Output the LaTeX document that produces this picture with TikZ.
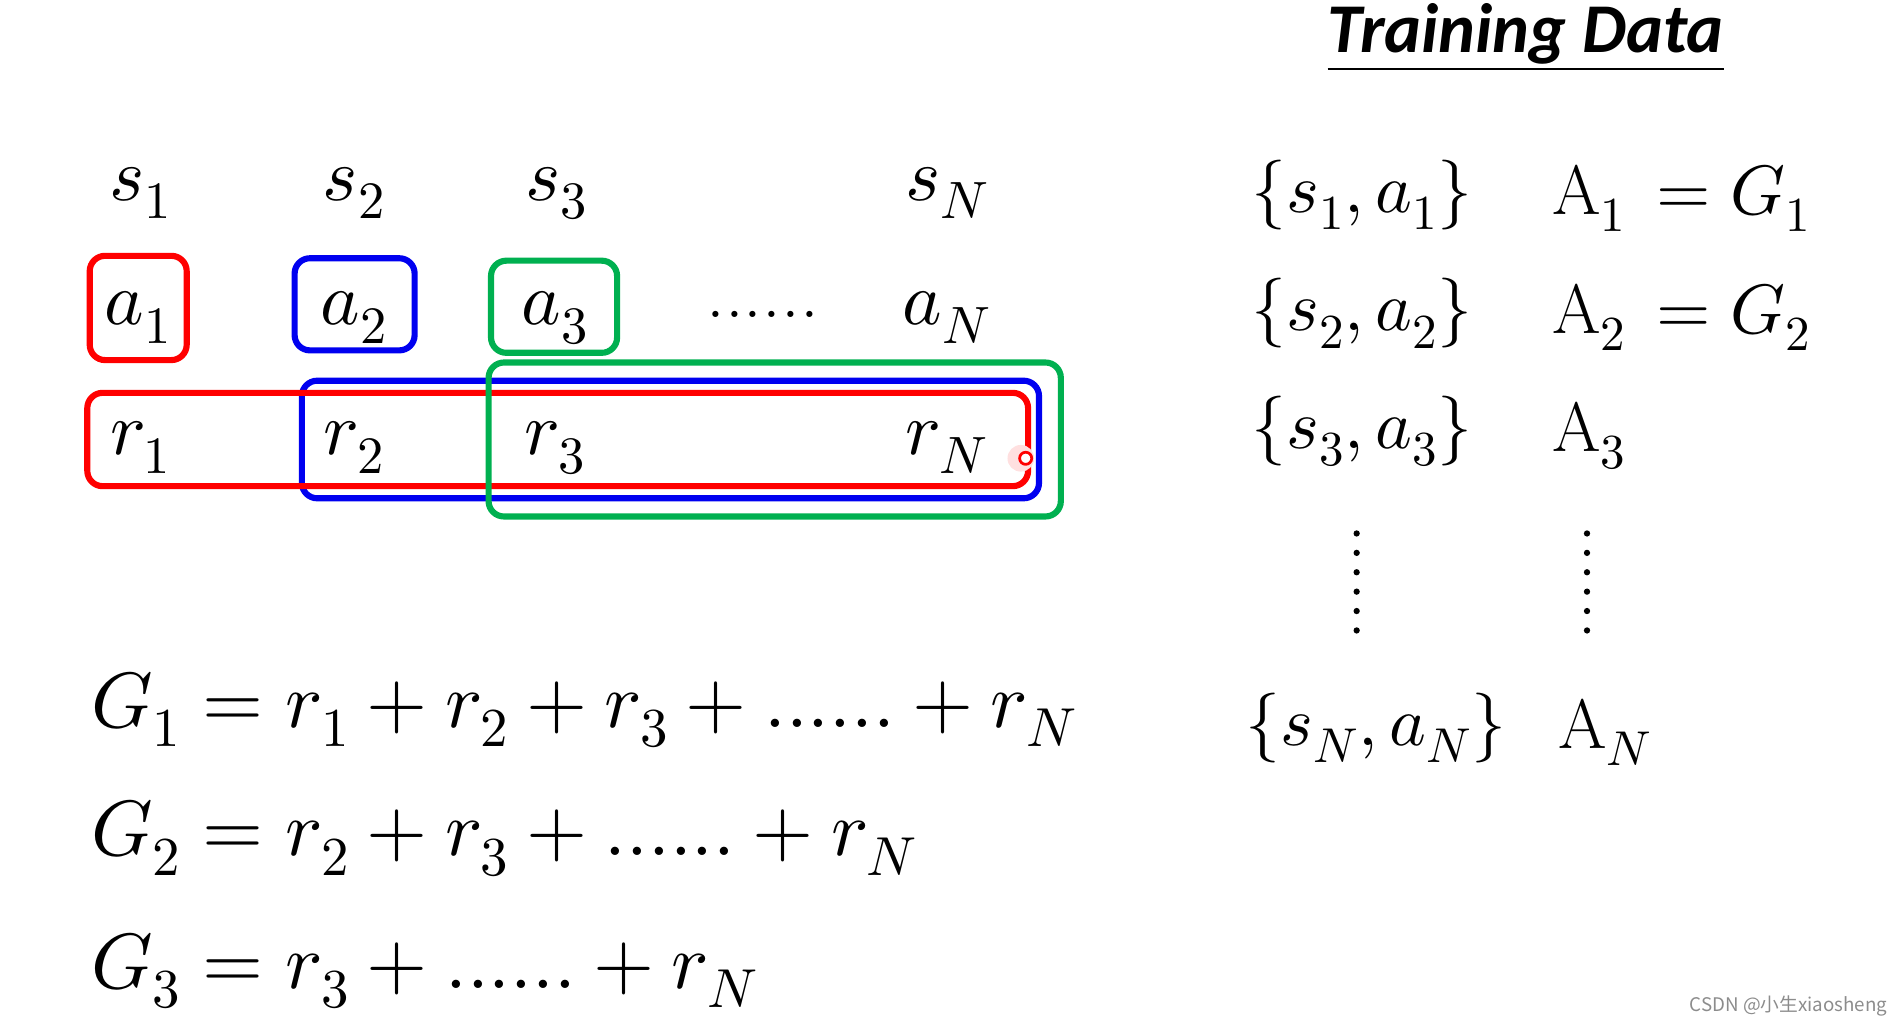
\documentclass[tikz,border=0pt]{standalone}
\usepackage{fontspec}
\usepackage{unicode-math}
\setmathfont{Latin Modern Math}
\newfontfamily\titlefont{Carlito}
\newfontfamily\cjk{Noto Sans CJK SC}
\definecolor{bred}{RGB}{255,0,0}
\definecolor{bblue}{RGB}{0,0,240}
\definecolor{bgreen}{RGB}{0,176,80}
\definecolor{wmgray}{RGB}{140,140,140}
\begin{document}
\begin{tikzpicture}[x=0.25mm,y=-0.25mm,
  mt/.style={font=\fontsize{44}{52}\selectfont, inner sep=0pt},
  eq/.style={font=\fontsize{46}{54}\selectfont, inner sep=0pt},
  rt/.style={font=\fontsize{41}{48}\selectfont, inner sep=0pt},
  boxline/.style={line width=3.6pt, rounded corners=9pt},
  vdot/.style={fill=black}]
\useasboundingbox (0,0) rectangle (1568,845);
% boxes
\draw[boxline,bblue] (249,314) rectangle (857,411);
\draw[boxline,bred] (72,324) rectangle (848,401);
\draw[boxline,bgreen] (403,299) rectangle (875,426);
\draw[boxline,bred] (74,211) rectangle (154,297);
\draw[boxline,bblue] (243,213) rectangle (342,289);
\draw[boxline,bgreen] (405,215) rectangle (509,291);
\fill[bred!12] (842,378) circle (11);
\draw[bred, line width=1.6pt, fill=white] (846,378) circle (5);
% top row
\node[mt,anchor=base] (s1) at (116,165) {$s_1$};
\node[mt,anchor=base] (s2) at (292,165) {$s_2$};
\node[mt,anchor=base] (s3) at (459,165) {$s_3$};
\node[mt,anchor=base] (sN) at (781,165) {$s_N$};
\node[mt,anchor=base] (a1) at (114,268) {$a_1$};
\node[mt,anchor=base] (a2) at (292,268) {$a_2$};
\node[mt,anchor=base] (a3) at (458,268) {$a_3$};
\node[mt,anchor=base] (adots) at (629,262) {......};
\node[mt,anchor=base] (aN) at (781,268) {$a_N$};
\node[mt,anchor=base] (r1) at (116,375) {$r_1$};
\node[mt,anchor=base] (r2) at (292,375) {$r_2$};
\node[mt,anchor=base] (r3) at (458,375) {$r_3$};
\node[mt,anchor=base] (rN) at (781,375) {$r_N$};
% equations
\node[eq,anchor=base west] (g1) at (75,600) {$G_1 = r_1 + r_2 + r_3 + ...... + r_N$};
\node[eq,anchor=base west] (g2) at (75,706) {$G_2 = r_2 + r_3 + ...... + r_N$};
\node[eq,anchor=base west] (g3) at (75,815) {$G_3 = r_3 + ...... + r_N$};
% training data
\node[font=\titlefont\bfseries\itshape\fontsize{41}{48}\selectfont, inner sep=0pt, anchor=base west] (title) at (1095,43) {Training Data};
\coordinate (ul) at (0,57);
\draw[line width=1.4pt] (title.west |- ul) -- (title.east |- ul);
\node[rt,anchor=base west] (d1) at (1032,175) {$\{s_1, a_1\}$};
\node[rt,anchor=base west] (d2) at (1032,273) {$\{s_2, a_2\}$};
\node[rt,anchor=base west] (d3) at (1032,370) {$\{s_3, a_3\}$};
\node[rt,anchor=base west] (dN) at (1027,615) {$\{s_N, a_N\}$};
\node[rt,anchor=base west] (A1) at (1280,177) {$\mathrm{A}_1\,=G_1$};
\node[rt,anchor=base west] (A2) at (1280,275) {$\mathrm{A}_2\,=G_2$};
\node[rt,anchor=base west] (A3) at (1280,372) {$\mathrm{A}_3$};
\node[rt,anchor=base west] (AN) at (1285,617) {$\mathrm{A}_N$};
\foreach \yy in {440,456,...,520} {
  \fill[vdot] (1119,\yy) circle (2.6);
  \fill[vdot] (1309,\yy) circle (2.6);
}
\node[font=\cjk\fontsize{11}{13}\selectfont, text=wmgray, inner sep=0pt, anchor=base east] (wm) at (1557,834) {CSDN @小生xiaosheng};
\end{tikzpicture}
\end{document}
